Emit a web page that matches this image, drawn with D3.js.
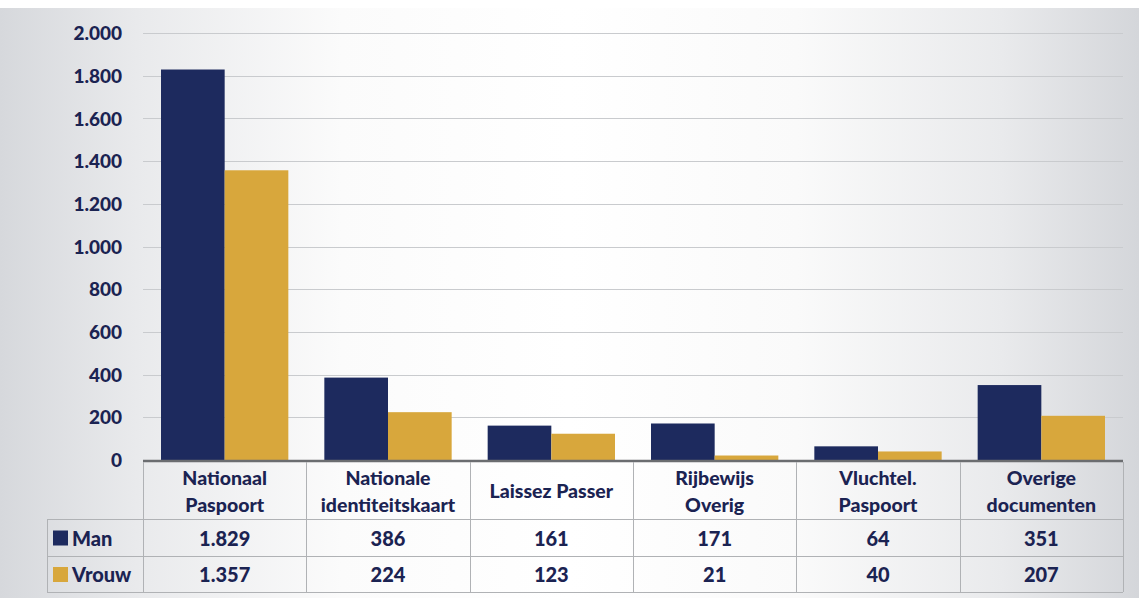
<!DOCTYPE html>
<html>
<head>
<meta charset="utf-8">
<script src="https://cdn.jsdelivr.net/npm/d3@7"></script>
<style>
  html, body { margin: 0; padding: 0; }
  body { width: 1139px; height: 598px; overflow: hidden; }
  svg { display: block; font-family: Lato, "Open Sans", sans-serif; }
</style>
</head>
<body>
<svg id="chart" width="1139" height="598"></svg>
<script>
// ---- Data ----
const categories = [
  ["Nationaal", "Paspoort"],
  ["Nationale", "identiteitskaart"],
  ["Laissez Passer"],
  ["Rijbewijs", "Overig"],
  ["Vluchtel.", "Paspoort"],
  ["Overige", "documenten"]
];
const seriesNames = ["Man", "Vrouw"];
const manValues = [1829, 386, 161, 171, 64, 351];
const vrouwValues = [1357, 224, 123, 21, 40, 207];
const yTicks = [0, 200, 400, 600, 800, 1000, 1200, 1400, 1600, 1800, 2000];

// ---- Setup ----
const W = 1139, H = 598;
const svg = d3.select("#chart");
const navy = "#1d2a5e";
const gold = "#d8a73c";
const textCol = "#1b2352";
const colors = [navy, gold];
const seriesValues = [manValues, vrouwValues];
const FW = 900;

const nl = d3.formatLocale({decimal: ",", thousands: ".", grouping: [3], currency: ["€", ""]});
const fmt = nl.format(",d");

// background gradient
const defs = svg.append("defs");
const g1 = defs.append("linearGradient").attr("id", "bg").attr("x1", 0).attr("x2", 1).attr("y1", 0).attr("y2", 0);
[[0, "#d6d8dc"], [0.12, "#e9eaec"], [0.3, "#fbfbfb"], [0.5, "#ffffff"], [0.7, "#fafafa"], [0.88, "#e9eaec"], [1, "#d4d6da"]]
  .forEach(([o, c]) => g1.append("stop").attr("offset", o).attr("stop-color", c));
svg.append("rect").attr("width", W).attr("height", H).attr("fill", "url(#bg)");
svg.append("rect").attr("width", W).attr("height", 8).attr("fill", "#ffffff");

const left = 143, right = 1123;
const y0 = 460, yTop = 33;

const x0 = d3.scaleBand().domain(d3.range(categories.length)).range([left, right]).padding(0);
const x1 = d3.scaleBand().domain(d3.range(seriesNames.length)).range([18, x0.bandwidth() - 18]).padding(0);
const y = d3.scaleLinear().domain([0, 2000]).range([y0, yTop]);

// gridlines
svg.append("g").selectAll("line").data(yTicks.filter(d => d > 0)).join("line")
  .attr("x1", left).attr("x2", right)
  .attr("y1", d => Math.round(y(d)) + 0.5).attr("y2", d => Math.round(y(d)) + 0.5)
  .attr("stroke", "#c9cbce").attr("stroke-width", 1);

// y axis labels via d3 axis
const yAxis = d3.axisLeft(y).tickValues(yTicks).tickFormat(d => fmt(d)).tickSize(0).tickPadding(0);
const ya = svg.append("g").attr("transform", "translate(122,0)").call(yAxis);
ya.select(".domain").remove();
ya.selectAll("text").attr("fill", textCol).attr("font-size", 19).attr("font-weight", FW)
  .attr("font-family", "Lato, 'Open Sans', sans-serif").attr("dy", "0.35em");

// bars
const groups = svg.append("g").selectAll("g").data(categories).join("g")
  .attr("transform", (d, i) => `translate(${x0(i)},0)`);
groups.selectAll("rect").data((d, i) => seriesValues.map((vals, s) => ({s, v: vals[i]}))).join("rect")
  .attr("x", d => x1(d.s)).attr("width", x1.bandwidth())
  .attr("y", d => y(d.v)).attr("height", d => y0 - y(d.v))
  .attr("fill", d => colors[d.s]);

// baseline
svg.append("line").attr("x1", left).attr("x2", right).attr("y1", y0 + 1).attr("y2", y0 + 1)
  .attr("stroke", "#6b6d70").attr("stroke-width", 2.5);

// table
const tableLeft = 47;
const rowLines = [519, 556, 592];
const tbl = svg.append("g").attr("stroke", "#b0b2b5").attr("stroke-width", 1);
rowLines.forEach(ry => tbl.append("line").attr("x1", tableLeft).attr("x2", right).attr("y1", ry + 0.5).attr("y2", ry + 0.5));
tbl.append("line").attr("x1", tableLeft + 0.5).attr("x2", tableLeft + 0.5).attr("y1", rowLines[0]).attr("y2", rowLines[2]);
d3.range(categories.length + 1).forEach(i => {
  const xx = Math.round(i < categories.length ? x0(i) : right) + 0.5;
  tbl.append("line").attr("x1", xx).attr("x2", xx).attr("y1", y0 + 2).attr("y2", rowLines[2]);
});

// category labels
groups.each(function(lines) {
  const g = d3.select(this);
  const cx = x0.bandwidth() / 2;
  const lineH = 27;
  const mid = (y0 + rowLines[0]) / 2 + 2;
  const startY = mid - (lines.length - 1) * lineH / 2;
  lines.forEach((t, k) => {
    g.append("text").attr("x", cx).attr("y", startY + k * lineH).attr("dy", "0.35em")
      .attr("text-anchor", "middle").attr("fill", textCol).attr("font-size", 19.5).attr("font-weight", FW)
      .text(t);
  });
});

// value rows
seriesValues.forEach((vals, s) => {
  const ry = (rowLines[s] + rowLines[s + 1]) / 2 + 1;
  groups.append("text").attr("x", x0.bandwidth() / 2).attr("y", ry).attr("dy", "0.35em")
    .attr("text-anchor", "middle").attr("fill", textCol).attr("font-size", 20).attr("font-weight", FW)
    .text((d, i) => fmt(vals[i]));
  svg.append("rect").attr("x", 53).attr("y", ry - 8).attr("width", 15).attr("height", 15).attr("fill", colors[s]);
  svg.append("text").attr("x", 72).attr("y", ry).attr("dy", "0.35em").attr("fill", textCol)
    .attr("font-size", 20).attr("font-weight", FW).text(seriesNames[s]);
});
</script>
</body>
</html>
